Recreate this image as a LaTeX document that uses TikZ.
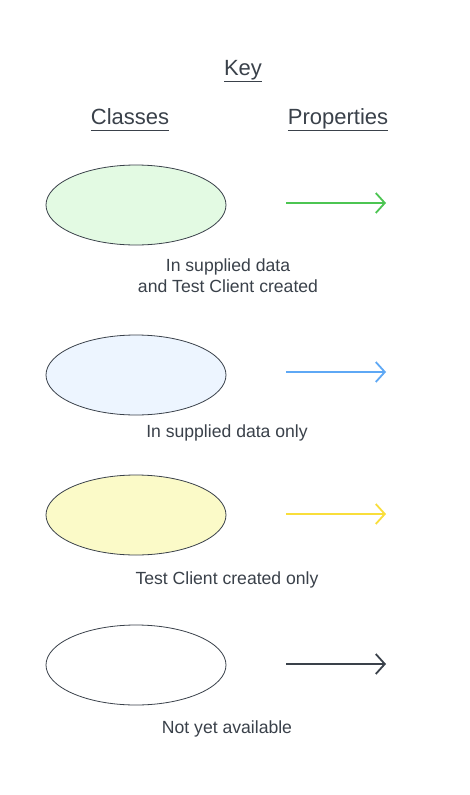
\documentclass[tikz,border=0pt]{standalone}
\usepackage{fontspec}
\setmainfont{Liberation Sans}
\usetikzlibrary{shapes.geometric,arrows.meta}
\definecolor{txt}{HTML}{3A414A}
\definecolor{gfill}{HTML}{E3FAE3}
\definecolor{gline}{HTML}{4CC552}
\definecolor{bfill}{HTML}{EDF5FF}
\definecolor{bline}{HTML}{5EA8F5}
\definecolor{yfill}{HTML}{FBFAC8}
\definecolor{yline}{HTML}{F9DE3B}
\newcommand{\hul}[1]{\underline{\vphantom{Ky}#1}}
\tikzset{
  cls/.style={ellipse, draw=txt, line width=0.8pt, minimum width=180pt, minimum height=80pt, inner sep=0pt},
  prop/.style={line width=1.8pt, -{Straight Barb[length=9pt, width=20pt, line width=1.8pt]}},
  lbl/.style={text=txt, font=\fontsize{17.6}{21}\selectfont, align=center},
  hdr/.style={text=txt, font=\fontsize{22}{26}\selectfont},
}
\begin{document}
\begin{tikzpicture}[x=1pt,y=-1pt]
\useasboundingbox[fill=white] (0,0) rectangle (469,795);
\node[hdr] (key) at (243,71) {\hul{Key}};
\node[hdr] (classes) at (130,120) {\hul{Classes}};
\node[hdr] (props) at (338,120) {\hul{Properties}};

\node[cls, fill=gfill] (c1) at (136,205) {};
\node[cls, fill=bfill] (c2) at (136,375) {};
\node[cls, fill=yfill] (c3) at (136,515) {};
\node[cls, fill=white] (c4) at (136,665) {};

\coordinate (a1s) at (286,203); \coordinate (a1e) at (386,203);
\coordinate (a2s) at (286,372); \coordinate (a2e) at (386,372);
\coordinate (a3s) at (286,514); \coordinate (a3e) at (386,514);
\coordinate (a4s) at (286,664); \coordinate (a4e) at (386,664);
\draw[prop, gline] (a1s) -- (a1e);
\draw[prop, bline] (a2s) -- (a2e);
\draw[prop, yline] (a3s) -- (a3e);
\draw[prop, txt] (a4s) -- (a4e);

\node[lbl] (l1) at (228,276) {In supplied data\\and Test Client created};
\node[lbl] (l2) at (227,433) {In supplied data only};
\node[lbl] (l3) at (227,580) {Test Client created only};
\node[lbl] (l4) at (227,729) {Not yet available};
\end{tikzpicture}
\end{document}
